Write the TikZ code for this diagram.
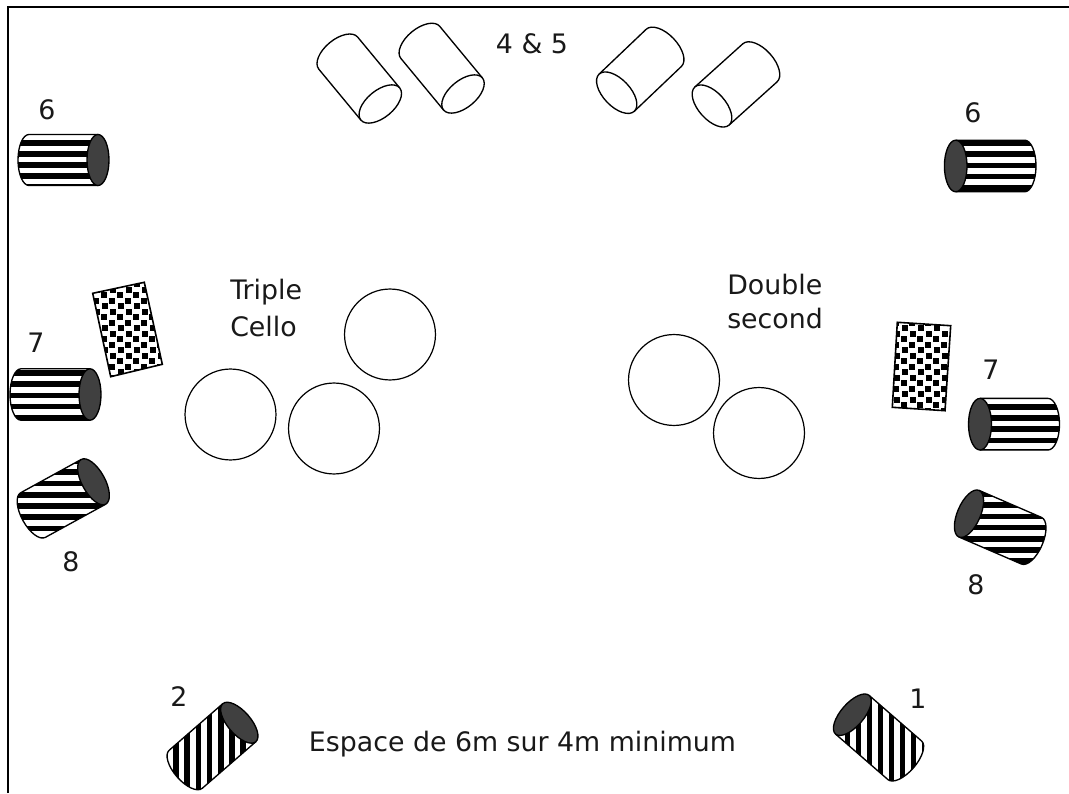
\documentclass[tikz,border=0pt]{standalone}
\usepackage{fontspec}
\setmainfont{DejaVu Sans}
\definecolor{capgray}{HTML}{404040}
\tikzset{
  lbl/.style={inner sep=0pt,font=\fontsize{20.1pt}{25.5pt}\selectfont,text=black!90},
  solo/.style={draw=black,line width=0.9pt,circle,minimum size=68.2pt,inner sep=0pt},
  outline/.style={draw=black,line width=1pt},
  confettibox/.style={draw=black,line width=1.2pt}
}
% stripes in page pixels
\newcommand{\hbars}[2]{\foreach \i in {0,...,9}{\fill[black] (-20,{793-(#1+\i*#2)+2.8}) rectangle (1100,{793-(#1+\i*#2)-2.8});}}
\newcommand{\vbars}[2]{\foreach \i in {0,...,9}{\fill[black] ({#1+\i*#2-2.8},-20) rectangle ({#1+\i*#2+2.8},820);}}
\newcommand{\nobars}{}
% #1,#2 cap centre (px); #3 axis angle; #4 length; #5 semi-minor; #6 radius; #7 stripes; #8 cap colour
\newcommand{\drum}[8]{%
  \begin{scope}[shift={(#1,793-#2)},rotate=#3]
    \begin{scope}
      \clip (0,#6) -- (-#4,#6) arc[start angle=90,end angle=270,x radius=#5,y radius=#6] -- (0,-#6) arc[start angle=-90,end angle=90,x radius=#5,y radius=#6] -- cycle;
      \begin{scope}[rotate=-#3,shift={(-#1,-793+#2)}] #7 \end{scope}
    \end{scope}
    \draw[outline,line join=round] (0,#6) -- (-#4,#6) arc[start angle=90,end angle=270,x radius=#5,y radius=#6] -- (0,-#6);
    \draw[outline,fill=#8] (0,0) ellipse[x radius=#5,y radius=#6];
  \end{scope}}
% confetti panel: four corners in px
\newcommand{\panel}[5]{%
  \begin{scope}
    \clip (#1) -- (#2) -- (#3) -- (#4) -- cycle;
    \foreach \c in {0,...,6}{\foreach \r in {0,...,7}{%
      \foreach \dx/\dy in {0/0,8/6,1/11,9/17}{%
        \fill[black] ({#5+\c*16+\dx},{793-(270+\r*22+\dy)}) rectangle +(5.7,-5.7);}}}
  \end{scope}
  \draw[confettibox] (#1) -- (#2) -- (#3) -- (#4) -- cycle;}
\begin{document}
\begin{tikzpicture}[x=0.75pt,y=0.75pt]
\useasboundingbox (0,0) rectangle (1069,793);
\fill[white] (0,0) rectangle (1069,793);
\coordinate (fa) at (8,0);
\coordinate (fb) at (8,786);
\coordinate (fc) at (1069,786);
\draw[line width=1pt,black] (fa) -- (fb) -- (fc);
% soloists
\node[solo] (c1) at (230.5,{793-414.5}) {};
\node[solo] (c2) at (334,{793-428.5}) {};
\node[solo] (c3) at (390,{793-334.5}) {};
\node[solo] (c4) at (674,{793-380}) {};
\node[solo] (c5) at (759,{793-433}) {};
% white drums
\drum{380.3}{104}{-50.4}{66}{13.5}{25.2}{\nobars}{white}
\drum{463}{94}{-50.4}{67}{13.5}{25.2}{\nobars}{white}
\drum{616.7}{92.7}{223.6}{65}{13.5}{25.6}{\nobars}{white}
\drum{712}{106}{222}{64.5}{13.5}{25.6}{\nobars}{white}
% striped drums
\drum{98}{160}{0}{69}{11}{25.5}{\hbars{143.3}{10.9}}{capgray}
\drum{955.7}{166}{180}{69}{11.3}{25.8}{\hbars{143}{11.2}}{capgray}
\drum{90}{394.5}{0}{69}{11}{25.7}{\hbars{373}{11.2}}{capgray}
\drum{980}{424.2}{180}{68}{11.5}{25.8}{\hbars{407}{11.1}}{capgray}
\drum{93.5}{481.8}{28.8}{69}{11.5}{25.5}{\hbars{460.8}{11.3}}{capgray}
\drum{969}{513.7}{156.6}{68}{11.5}{25.4}{\hbars{494}{11.2}}{capgray}
\drum{239.3}{722.7}{41}{71}{11.5}{25.2}{\vbars{176}{11.2}}{capgray}
\drum{852.3}{714.7}{139}{69.5}{11.5}{25.6}{\vbars{847.3}{11}}{capgray}
% panels
\panel{92.7,{793-293.3}}{144.3,{793-282.3}}{162.3,{793-364.3}}{110.7,{793-376.7}}{85}
\panel{897.3,{793-322.3}}{950.7,{793-325.7}}{945,{793-410.7}}{892.3,{793-407.3}}{885}
% labels
\node[lbl] (t1) at (47,{793-110}) {6};
\node[lbl] (t2) at (973,{793-113}) {6};
\node[lbl] (t3) at (36,{793-343}) {7};
\node[lbl] (t4) at (991,{793-370}) {7};
\node[lbl] (t5) at (71,{793-562}) {8};
\node[lbl] (t6) at (976,{793-585}) {8};
\node[lbl] (t7) at (179,{793-697}) {2};
\node[lbl] (t8) at (918,{793-699}) {1};
\node[lbl] (t9) at (532,{793-44}) {4 \& 5};
\node[lbl,anchor=west,align=left] (t10) at (230,{793-308}) {Triple\\[2pt]Cello};
\node[lbl,anchor=west,align=left] (t11) at (727,{793-302}) {Double\\second};
\node[lbl] (t12) at (522.5,{793-744.5}) {Espace de 6m sur 4m minimum};
\end{tikzpicture}
\end{document}
